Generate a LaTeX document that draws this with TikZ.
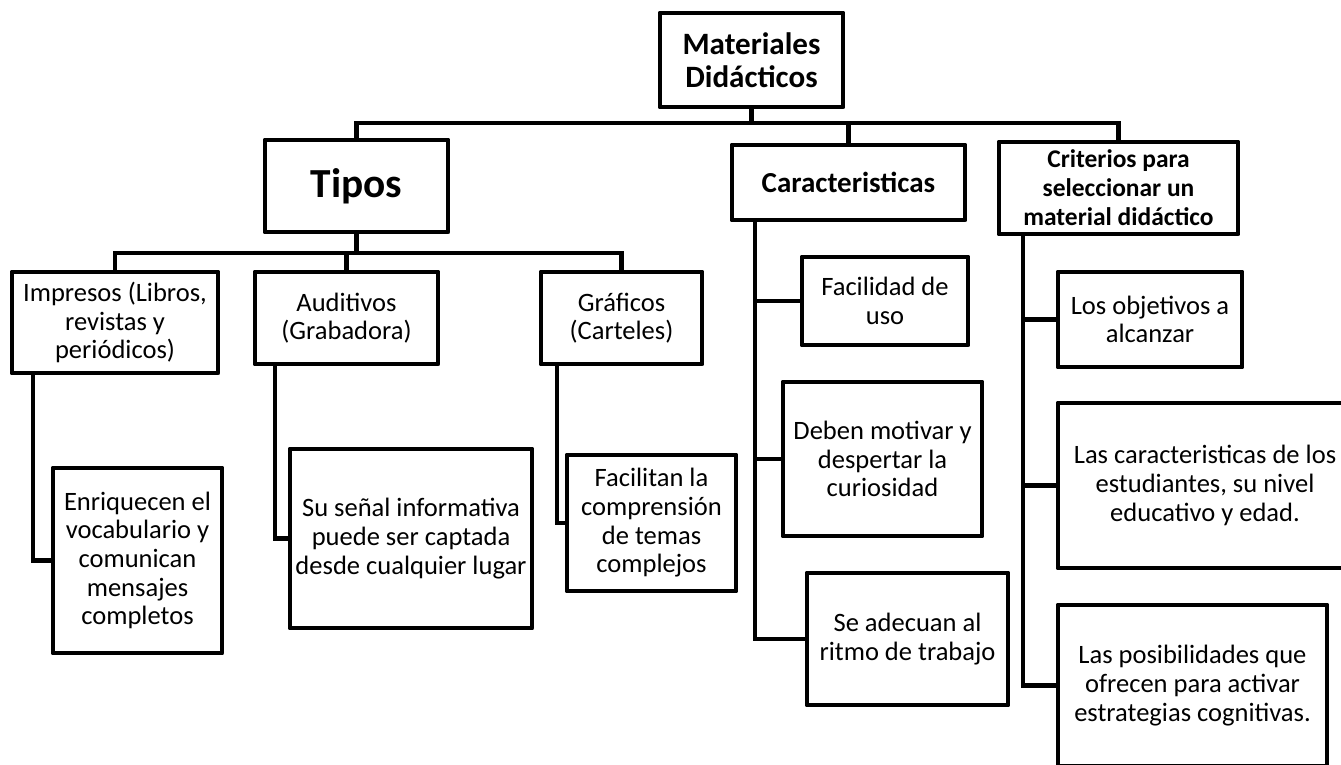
\documentclass[tikz,border=0pt]{standalone}
\usepackage{fontspec}
\setmainfont{Carlito}
\usetikzlibrary{calc}

\tikzset{
  dims/.style 2 args={minimum width=#1*0.75pt, minimum height=#2*0.75pt},
  leaf/.style={draw, line width=3.7pt, line join=round, inner sep=0pt, align=center,
    font=\fontsize{19.9}{21.5}\selectfont},
  head/.style={leaf, font=\bfseries\fontsize{19.1}{21.75}\selectfont},
  wire/.style={line width=3.5pt}
}

\begin{document}
\begin{tikzpicture}[x=0.75pt, y=-0.75pt]
        \useasboundingbox (0,0) rectangle (1341,764);
        \fill[white] (0,0) rectangle (1341,764);
        \clip (0,0) rectangle (1341,764);

        % top
        \node[head, dims={183}{94}, font=\bfseries\fontsize{23.3}{24.75}\selectfont] (mat) at (751.5,60) {Materiales\\Didácticos};
        \node[head, dims={183}{92}, font=\bfseries\fontsize{31}{36}\selectfont] (tipos) at (356.5,186) {Tipos};
        \node[head, dims={233}{75}, font=\bfseries\fontsize{21.75}{24}\selectfont] (carac) at (848.5,182.5) {Caracteristicas};
        \node[head, dims={239}{92}] (crit) at (1118.5,188) {Criterios para\\seleccionar un\\material didáctico};

        \coordinate (busTop) at (751.5,123);
        \draw[wire] (mat.south) -- (busTop);
        \draw[wire] (tipos.north) |- (busTop) -| (crit.north);
        \draw[wire] (carac.north) -- (carac.north |- busTop);

        % tipos
        \node[leaf, dims={206}{101}] (impresos) at (115,322.5) {Impresos (Libros,\\revistas y\\periódicos)};
        \node[leaf, dims={183}{92}] (auditivos) at (346.5,318) {Auditivos\\(Grabadora)};
        \node[leaf, dims={161}{92}] (graficos) at (621.5,318) {Gráficos\\(Carteles)};

        \coordinate (busTipos) at (356.5,253);
        \draw[wire] (tipos.south) -- (busTipos);
        \draw[wire] (impresos.north) |- (busTipos) -| (graficos.north);
        \draw[wire] (auditivos.north) -- (auditivos.north |- busTipos);

        \node[leaf, dims={169}{185}] (enriq) at (137.5,560.5) {Enriquecen el\\vocabulario y\\comunican\\mensajes\\completos};
        \node[leaf, dims={242}{179}] (senal) at (411,538.5) {Su señal informativa\\puede ser captada\\desde cualquier lugar};
        \node[leaf, dims={169}{136}] (facilitan) at (651.5,523) {Facilitan la\\comprensión\\de temas\\complejos};

        \draw[wire] (impresos.south -| 33,0) |- (enriq.west);
        \draw[wire] (auditivos.south -| 275,0) |- (senal.west);
        \draw[wire] (graficos.south -| 557,0) |- (facilitan.west);

        % caracteristicas
        \node[leaf, dims={166}{88}] (facilidad) at (885,301) {Facilidad de\\uso};
        \node[leaf, dims={199}{154}] (deben) at (882.5,459) {Deben motivar y\\despertar la\\curiosidad};
        \node[leaf, dims={201}{132}] (adecuan) at (907.5,639) {Se adecuan al\\ritmo de trabajo};

        \coordinate (caracTrunk) at (755,0);
        \draw[wire] (carac.south -| caracTrunk) |- (adecuan.west);
        \draw[wire] (facilidad.west) -- (facilidad.west -| caracTrunk);
        \draw[wire] (deben.west) -- (deben.west -| caracTrunk);

        % criterios
        \node[leaf, dims={184}{95}] (objetivos) at (1150,319.5) {Los objetivos a\\alcanzar};
        \node[leaf, dims={294}{165}] (estud) at (1205,485.5) {Las caracteristicas de los\\estudiantes, su nivel\\educativo y edad.};
        \node[leaf, dims={269}{161}] (posib) at (1192.5,685.5) {Las posibilidades que\\ofrecen para activar\\estrategias cognitivas.};

        \coordinate (critTrunk) at (1023,0);
        \draw[wire] (crit.south -| critTrunk) |- (posib.west);
        \draw[wire] (objetivos.west) -- (objetivos.west -| critTrunk);
        \draw[wire] (estud.west) -- (estud.west -| critTrunk);
\end{tikzpicture}
\end{document}
